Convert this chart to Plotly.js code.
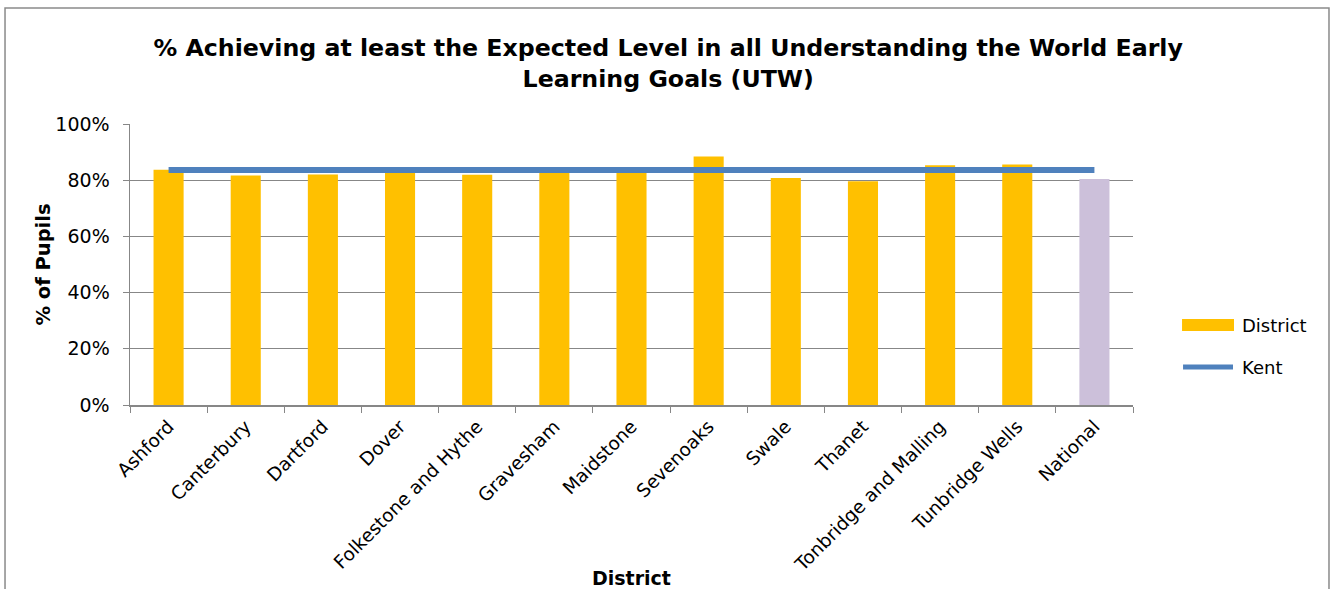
<!DOCTYPE html>
<html>
<head>
<meta charset="utf-8">
<script src="https://cdn.plot.ly/plotly-3.0.1.min.js"></script>
<style>html,body{margin:0;padding:0;background:#fff;}#chart{width:1331px;height:589px;}</style>
</head>
<body>
<div id="chart"></div>
<script>
var districts = ["Ashford","Canterbury","Dartford","Dover","Folkestone and Hythe","Gravesham","Maidstone","Sevenoaks","Swale","Thanet","Tonbridge and Malling","Tunbridge Wells","National"];
var districtValues = [83.7, 81.7, 82.0, 83.0, 81.9, 83.0, 83.1, 88.4, 80.8, 79.6, 85.3, 85.6, 80.4];
var kentValues = [83.6, 83.6, 83.6, 83.6, 83.6, 83.6, 83.6, 83.6, 83.6, 83.6, 83.6, 83.6, 83.6];
var yTickVals = [0, 20, 40, 60, 80, 100];
var yTickText = ["0%", "20%", "40%", "60%", "80%", "100%"];

var barColors = districts.map(function(d){ return d === "National" ? "#CCC0DA" : "#FFC000"; });
var FONT = "DejaVu Sans, Verdana, sans-serif";

var traces = [
  {type:"bar", name:"District", x:districts, y:districtValues, marker:{color:barColors}, showlegend:false, hoverinfo:"x+y"},
  {type:"scatter", mode:"lines", name:"Kent", x:districts, y:kentValues, line:{color:"#4F81BD", width:6}, showlegend:false}
];

var layout = {
  width:1331, height:589,
  margin:{l:130, r:198, t:124, b:184},
  paper_bgcolor:"#fff", plot_bgcolor:"#fff",
  font:{family:FONT, size:18, color:"#000"},
  bargap:0.61,
  title:{text:"<b>% Achieving at least the Expected Level in all Understanding the World Early<br>Learning Goals (UTW)</b>",
         font:{family:FONT, size:23.7, color:"#000"}, x:0.502, xref:"container", xanchor:"center", y:0.905, yref:"container", yanchor:"middle"},
  xaxis:{type:"category", tickangle:-45, tickson:"boundaries", ticks:"outside", ticklen:6, tickcolor:"#878787",
         showline:true, linecolor:"#878787", linewidth:1.5, showgrid:false, tickfont:{family:FONT, size:18.5, color:"#000"},
         ticklabelstandoff:2, automargin:false},
  yaxis:{range:[0,100], tickvals:yTickVals, ticktext:yTickText, ticks:"outside", ticklen:6, tickcolor:"#878787",
         showline:true, linecolor:"#878787", linewidth:1.5, showgrid:true, gridcolor:"#878787", gridwidth:1.3,
         zeroline:false, tickfont:{family:FONT, size:19, color:"#000"}, ticklabelstandoff:9, automargin:false},
  shapes:[
    {type:"rect", xref:"paper", yref:"paper", x0:-0.1246, x1:1.1954, y0:-0.72, y1:1.4128, line:{color:"#8a8a8a", width:1.5}, fillcolor:"rgba(0,0,0,0)", layer:"below"},
    {type:"rect", xref:"paper", yref:"paper", x0:1.0489, x1:1.1007, y0:0.263, y1:0.306, line:{width:0}, fillcolor:"#FFC000"},
    {type:"line", xref:"paper", yref:"paper", x0:1.0499, x1:1.0997, y0:0.1352, y1:0.1352, line:{color:"#4F81BD", width:5}}
  ],
  annotations:[
    {text:"District", xref:"paper", yref:"paper", x:1.1067, y:0.2845, xanchor:"left", yanchor:"middle", showarrow:false, font:{family:FONT, size:18, color:"#000"}},
    {text:"Kent", xref:"paper", yref:"paper", x:1.1067, y:0.1352, xanchor:"left", yanchor:"middle", showarrow:false, font:{family:FONT, size:18, color:"#000"}},
    {text:"<b>District</b>", xref:"paper", yref:"paper", x:0.5, y:-0.6157, xanchor:"center", yanchor:"middle", showarrow:false, font:{family:FONT, size:19, color:"#000"}},
    {text:"<b>% of Pupils</b>", xref:"paper", yref:"paper", x:-0.0867, y:0.5, xanchor:"center", yanchor:"middle", textangle:-90, showarrow:false, font:{family:FONT, size:19.5, color:"#000"}}
  ]
};

Plotly.newPlot("chart", traces, layout, {displayModeBar:false, staticPlot:true});
</script>
</body>
</html>
